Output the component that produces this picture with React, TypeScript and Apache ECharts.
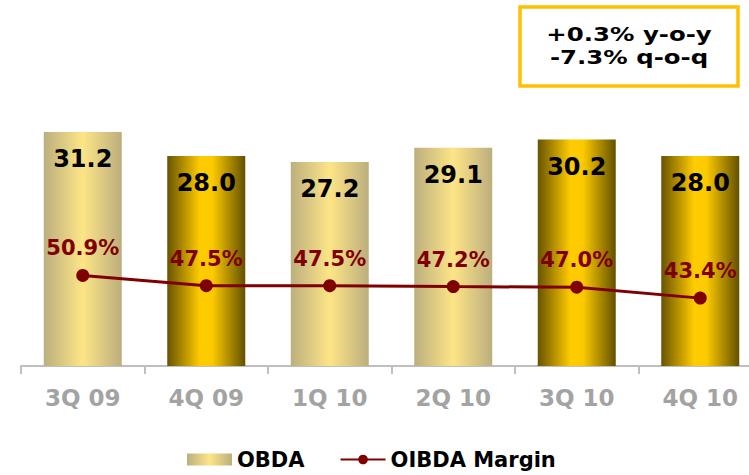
import React, { useEffect, useRef } from "react";
import * as echarts from "echarts";

const categories = ["3Q 09", "4Q 09", "1Q 10", "2Q 10", "3Q 10", "4Q 10"];
const obda = [31.2, 28.0, 27.2, 29.1, 30.2, 28.0];
const margin = [50.9, 47.5, 47.5, 47.2, 47.0, 43.4];
const darkBars = [false, true, false, false, true, true];
const boxLines = ["+0.3% y-o-y", "-7.3% q-o-q"];

const FONT = "DejaVu Sans";

const lightGrad = () =>
  new echarts.graphic.LinearGradient(0, 0, 1, 0, [
    { offset: 0, color: "#BCAF7F" },
    { offset: 0.5, color: "#FDE586" },
    { offset: 1, color: "#BCAE7E" },
  ]);
const darkGrad = () =>
  new echarts.graphic.LinearGradient(0, 0, 1, 0, [
    { offset: 0, color: "#685300" },
    { offset: 0.42, color: "#FFCC00" },
    { offset: 0.58, color: "#FCCA00" },
    { offset: 1, color: "#635000" },
  ]);

const boxText = (text: string, y: number) => ({
  type: "text",
  x: 629,
  y,
  scaleX: 1.22,
  style: {
    text,
    fontFamily: FONT,
    fontWeight: "bold",
    fontSize: 20,
    fill: "#000",
    textAlign: "center",
    textVerticalAlign: "middle",
  },
});

export default function App() {
  const ref = useRef<HTMLDivElement>(null);
  useEffect(() => {
    if (!ref.current) return;
    const chart = echarts.init(ref.current, null, { renderer: "svg" });
    chart.setOption({
      animation: false,
      backgroundColor: "#ffffff",
      grid: {
        left: 21,
        width: 741,
        top: 66,
        bottom: 109,
        containLabel: false,
        outerBoundsMode: "none",
      },
      legend: {
        bottom: 0,
        left: 182,
        itemWidth: 45,
        itemHeight: 12,
        itemGap: 35,
        textStyle: { fontFamily: FONT, fontWeight: "bold", fontSize: 21, color: "#000" },
        data: [
          { name: "OBDA", icon: "rect", itemStyle: { color: lightGrad() } },
          { name: "OIBDA Margin" },
        ],
      },
      xAxis: {
        type: "category",
        data: categories,
        axisLine: { lineStyle: { color: "#BFBFBF", width: 2 } },
        axisTick: { show: true, length: 8, lineStyle: { color: "#BFBFBF", width: 2 } },
        axisLabel: {
          margin: 20,
          fontFamily: FONT,
          fontWeight: "bold",
          fontSize: 23,
          color: "#A3A3A3",
        },
      },
      yAxis: [
        { type: "value", min: 0, max: 40, show: false },
        { type: "value", min: 21, max: 120, show: false },
      ],
      series: [
        {
          name: "OBDA",
          type: "bar",
          barWidth: 78,
          yAxisIndex: 0,
          itemStyle: { color: lightGrad() },
          data: obda.map((v, i) => ({
            value: v,
            itemStyle: { color: darkBars[i] ? darkGrad() : lightGrad() },
          })),
          label: {
            show: true,
            position: "insideTop",
            distance: 15,
            formatter: (p: any) => Number(p.value).toFixed(1),
            fontFamily: FONT,
            fontWeight: "bold",
            fontSize: 24,
            color: "#000",
          },
        },
        {
          name: "OIBDA Margin",
          type: "line",
          yAxisIndex: 1,
          data: margin,
          symbol: "circle",
          symbolSize: 13,
          lineStyle: { color: "#7F0000", width: 3 },
          itemStyle: { color: "#7F0000" },
          label: {
            show: true,
            position: "top",
            distance: 10,
            formatter: (p: any) => Number(p.value).toFixed(1) + "%",
            fontFamily: FONT,
            fontWeight: "bold",
            fontSize: 21,
            color: "#800000",
          },
          z: 5,
        },
      ],
      graphic: [
        {
          type: "group",
          children: [
            {
              type: "rect",
              shape: { x: 520, y: 7, width: 218, height: 79 },
              style: { fill: "#fff", stroke: "#FFC000", lineWidth: 3.5 },
            },
            boxText(boxLines[0], 34),
            boxText(boxLines[1], 57),
          ],
        },
      ],
    });
    return () => chart.dispose();
  }, []);
  return <div ref={ref} style={{ width: 749, height: 475, position: "absolute", left: 0, top: 0 }} />;
}
